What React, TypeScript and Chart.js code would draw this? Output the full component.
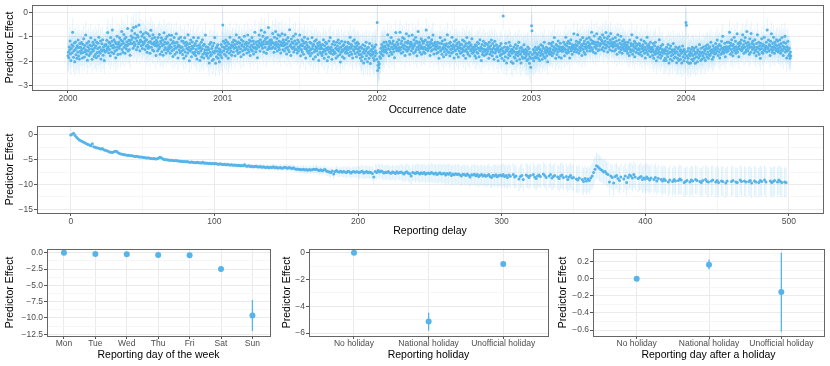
import React, { useEffect, useRef } from 'react';
import { Chart, registerables } from 'chart.js';

Chart.register(...registerables);

const FONT = '"Liberation Sans", Arial, Helvetica, sans-serif';
const BLUE = '#56B4E9';

// ---------------- Panel 1: occurrence date (daily, from 2000-01-01) ----------------
const occurrenceStartYear = 2000;
const occurrenceEffect: number[] = [
-1.78,-1.63,-1.86,-1.42,-1.54,-1.17,-1.71,-1.97,-1.48,-1.33,-1.66,-0.82,-1.39,-1.84,-1.57,-1.26,-2.02,-1.53,-1.21,-1.74,-1.46,-1.88,-1.37,-1.62,-1.13,-1.79,-1.44,-1.91,-1.28,-1.59,
-1.43,-1.68,-1.24,-1.52,-1.87,-1.31,-1.64,-1.08,-1.47,-1.83,-1.36,-1.61,-0.93,-1.55,-1.72,-1.27,-1.96,-1.41,-1.58,-1.19,-1.77,-1.49,-1.34,-1.69,-1.04,-1.63,-1.38,-1.92,-1.51,-1.23,
-1.57,-1.32,-1.81,-1.46,-1.13,-1.73,-1.38,-1.86,-1.22,-1.64,-1.48,-1.27,-1.79,-1.02,-1.61,-1.43,-1.68,-1.17,-1.91,-1.53,-1.29,-1.58,-1.12,-1.76,-1.42,-1.54,-1.97,-1.33,-1.62,-1.37,
-1.32,-1.57,-1.14,-1.48,-0.83,-1.41,-1.66,-1.23,-1.52,-1.27,-1.78,-1.03,-1.37,-1.63,-1.18,-0.72,-1.46,-1.34,-1.69,-1.12,-1.43,-1.58,-1.21,-1.86,-1.29,-1.54,-0.98,-1.42,-1.73,-1.31,
-1.23,-1.47,-1.04,-1.38,-1.71,-1.13,-1.32,-0.78,-1.52,-1.18,-1.63,-1.27,-0.91,-1.43,-1.09,-1.68,-1.34,-1.02,-1.49,-1.21,-1.37,-0.66,-1.58,-1.31,-1.14,-1.53,-1.17,-1.76,-1.28,-0.97,
-1.12,-0.74,-1.28,-1.03,-1.47,-0.62,-1.23,-1.38,-0.87,-1.32,-1.06,-0.58,-1.53,-1.17,-0.94,-1.42,-1.01,-1.29,-0.52,-1.24,-1.57,-1.13,-0.81,-1.37,-1.19,-0.98,-1.48,-1.33,-0.89,-1.22,
-1.27,-1.04,-1.52,-1.16,-0.83,-1.39,-1.12,-1.63,-1.34,-0.88,-1.47,-1.23,-1.41,-0.97,-1.68,-1.19,-0.73,-1.43,-1.28,-1.07,-1.54,-0.92,-1.31,-1.58,-1.22,-1.03,-1.36,-1.29,-1.77,-1.14,
-1.38,-1.22,-1.57,-1.03,-1.33,-1.49,-0.91,-1.42,-1.72,-1.18,-1.27,-1.04,-1.61,-1.37,-1.13,-1.76,-1.32,-0.84,-1.53,-1.21,-1.44,-1.08,-1.67,-1.29,-0.99,-1.52,-1.24,-1.58,-1.41,-0.93,
-1.48,-1.33,-1.68,-1.12,-1.43,-0.94,-1.57,-1.27,-1.81,-1.19,-1.52,-1.03,-1.38,-1.72,-1.26,-1.47,-0.88,-1.63,-1.22,-1.41,-1.87,-1.34,-1.08,-1.54,-1.39,-1.66,-1.02,-1.44,-1.59,-1.17,
-1.42,-1.73,-1.18,-1.53,-1.88,-1.27,-1.04,-1.62,-1.37,-1.79,-1.23,-1.48,-1.32,-1.67,-0.92,-1.54,-1.43,-1.98,-1.28,-1.58,-1.13,-1.51,-1.82,-1.39,-1.21,-1.64,-1.47,-1.03,-1.71,-1.36,
-1.63,-1.28,-1.77,-1.52,-1.17,-1.91,-1.38,-1.62,-1.04,-1.68,-1.47,-1.33,-1.97,-1.42,-1.58,-1.23,-1.83,-1.49,-1.12,-1.72,-1.36,-1.87,-1.31,-1.64,-1.53,-0.93,-1.69,-1.41,-1.78,-1.54,
-1.68,-1.43,-1.87,-1.52,-2.07,-1.31,-1.63,-1.78,-1.22,-1.73,-1.48,-1.97,-1.38,-1.61,-1.92,-1.27,-1.67,-1.03,-1.57,-2.08,-1.46,-1.82,-1.41,-1.59,-1.33,-1.88,-1.72,-1.49,-2.02,-1.62,
-1.53,-1.77,-1.32,-1.63,-1.86,-1.41,-0.52,-1.18,-1.57,-1.43,-1.72,-1.27,-1.48,-1.13,-1.79,-1.37,-1.62,-1.21,-1.52,-1.88,-1.29,-1.44,-1.68,-1.02,-1.47,-1.58,-1.34,-1.76,-1.39,-1.23,
-1.38,-1.62,-1.13,-1.47,-1.32,-1.78,-1.17,-1.43,-0.92,-1.58,-1.28,-1.52,-1.69,-1.21,-1.41,-1.03,-1.63,-1.27,-1.49,-1.82,-1.12,-1.37,-1.33,-1.57,-1.18,-1.73,-1.42,-0.98,-1.53,-1.29,
-1.31,-1.48,-1.22,-1.67,-1.38,-0.93,-1.53,-1.27,-1.62,-1.13,-1.42,-1.77,-1.18,-1.52,-1.34,-1.03,-1.58,-1.41,-1.17,-1.71,-1.29,-1.47,-0.82,-1.43,-1.61,-1.21,-1.49,-1.33,-1.86,-1.37,
-1.18,-1.42,-0.93,-1.27,-1.58,-1.12,-1.33,-0.73,-1.38,-1.22,-1.47,-0.98,-1.31,-1.62,-1.17,-0.82,-1.43,-1.08,-1.29,-1.68,-1.21,-1.03,-1.52,-1.28,-0.62,-1.41,-1.19,-1.48,-1.13,-1.34,
-1.28,-1.13,-1.47,-1.22,-0.87,-1.42,-1.27,-1.63,-1.02,-1.32,-1.48,-0.78,-1.23,-1.38,-1.07,-1.58,-1.31,-0.92,-1.43,-1.18,-1.52,-0.97,-1.33,-1.67,-1.21,-1.37,-0.88,-1.29,-1.53,-1.12,
-1.37,-1.23,-1.58,-0.92,-1.32,-1.47,-1.12,-1.71,-1.28,-1.42,-1.03,-1.53,-1.18,-1.61,-0.71,-1.38,-1.33,-1.77,-1.09,-1.43,-1.22,-1.48,-1.27,-0.98,-1.62,-1.41,-1.17,-1.52,-0.89,-1.31,
-1.52,-1.28,-1.67,-1.13,-1.42,-1.58,-1.21,-1.47,-0.93,-1.38,-1.78,-1.32,-1.53,-1.12,-1.62,-1.37,-1.18,-1.72,-1.27,-1.02,-1.48,-1.43,-1.87,-1.22,-1.51,-1.33,-1.59,-1.08,-1.41,-1.68,
-1.43,-1.57,-1.22,-1.78,-1.52,-1.27,-1.68,-1.03,-1.48,-1.37,-1.91,-1.32,-1.62,-1.18,-1.53,-1.82,-1.41,-1.12,-1.58,-1.47,-1.28,-1.73,-1.38,-1.97,-1.23,-1.49,-1.63,-1.33,-1.42,-1.69,
-1.48,-1.77,-1.32,-1.63,-1.12,-1.52,-1.88,-1.37,-1.58,-1.22,-1.71,-1.47,-1.28,-1.98,-1.53,-1.42,-1.83,-1.17,-1.62,-1.49,-1.03,-1.68,-1.43,-1.57,-1.92,-1.31,-1.54,-1.72,-1.19,-1.61,
-1.62,-1.33,-1.68,-1.47,-1.87,-1.23,-1.52,-1.38,-1.79,-1.13,-1.58,-1.48,-1.27,-1.73,-2.03,-1.42,-1.63,-1.18,-1.53,-1.82,-1.37,-1.57,-1.32,-1.88,-1.49,-1.21,-1.67,-1.43,-1.61,-1.52,
-1.41,-1.68,-1.23,-1.52,-1.28,-1.77,-1.43,-1.02,-1.62,-1.47,-1.32,-1.72,-1.38,-1.87,-1.17,-1.53,-1.58,-1.12,-1.42,-1.69,-1.27,-1.48,-1.82,-1.37,-1.22,-1.63,-1.51,-1.29,-1.73,-1.44,
-1.58,-1.87,-1.42,-1.73,-1.98,-1.47,-1.82,-1.33,-1.63,-2.07,-1.52,-1.68,-1.38,-1.91,-1.57,-1.22,-1.78,-1.48,-2.02,-1.67,-1.43,-1.62,-1.88,-1.28,-1.72,-2.09,-1.53,-1.77,-1.59,-1.37,
-1.72,-1.48,-1.87,-1.63,-1.97,-1.42,-1.78,-1.57,-1.33,-1.68,-1.92,-0.42,-2.38,-2.17,-2.03,-2.27,-2.12,-1.82,-1.63,-1.88,-1.47,-1.71,-1.32,-1.58,-1.41,-1.77,-1.52,-1.23,-1.62,-1.38,
-1.43,-1.58,-1.21,-1.53,-1.67,-1.32,-0.92,-1.48,-1.37,-1.78,-1.18,-1.52,-1.27,-1.63,-1.03,-1.42,-1.72,-1.28,-1.49,-1.17,-1.61,-1.38,-1.86,-1.33,-1.47,-0.83,-1.41,-1.57,-1.22,-1.53,
-1.32,-1.47,-1.12,-1.58,-1.43,-0.82,-1.52,-1.28,-1.68,-1.17,-1.41,-1.03,-1.62,-1.33,-1.48,-1.08,-1.37,-1.77,-1.22,-1.53,-0.88,-1.42,-1.59,-1.27,-1.18,-1.51,-0.97,-1.43,-1.72,-1.29,
-1.38,-1.23,-1.57,-1.32,-0.93,-1.48,-1.42,-1.67,-1.12,-1.37,-1.28,-1.62,-1.02,-1.53,-1.18,-1.78,-1.43,-1.27,-0.79,-1.52,-1.39,-1.21,-1.63,-1.33,-1.47,-1.08,-1.72,-1.41,-1.17,-1.49,
-1.27,-1.62,-1.18,-1.43,-1.68,-1.13,-1.52,-0.72,-1.33,-1.48,-1.22,-1.57,-1.38,-1.03,-1.47,-1.32,-1.77,-1.21,-1.42,-1.58,-1.12,-1.28,-1.53,-0.93,-1.37,-1.71,-1.31,-1.49,-1.23,-1.43,
-1.52,-1.33,-1.68,-1.38,-1.22,-1.63,-1.47,-1.88,-1.27,-1.42,-1.03,-1.58,-1.53,-1.28,-1.72,-1.17,-1.49,-1.43,-1.82,-1.32,-1.61,-1.12,-1.48,-1.37,-1.73,-1.29,-1.54,-0.92,-1.62,-1.41,
-1.42,-1.63,-1.27,-1.78,-1.23,-1.52,-1.38,-1.67,-1.02,-1.48,-1.62,-1.33,-1.43,-1.87,-1.18,-1.53,-1.57,-1.37,-1.12,-1.72,-1.28,-1.49,-1.41,-1.83,-1.22,-1.58,-1.43,-1.32,-1.68,-1.47,
-1.48,-1.32,-1.62,-1.13,-1.53,-1.77,-1.42,-1.18,-1.58,-1.37,-1.88,-1.28,-1.52,-1.03,-1.63,-1.41,-1.72,-1.27,-1.47,-1.22,-1.79,-1.38,-1.57,-1.33,-1.52,-1.08,-1.68,-1.43,-1.49,-1.62,
-1.58,-1.42,-1.78,-1.33,-1.52,-1.87,-1.38,-1.63,-1.22,-1.68,-1.47,-1.28,-1.82,-1.53,-1.12,-1.57,-1.43,-1.97,-1.48,-1.32,-1.73,-1.62,-1.18,-1.51,-1.77,-1.37,-1.59,-1.27,-1.72,-1.53,
-1.52,-1.68,-1.32,-1.57,-1.43,-1.88,-1.22,-1.48,-1.72,-1.37,-1.62,-1.13,-1.53,-1.78,-1.28,-1.63,-1.47,-1.92,-1.38,-1.18,-1.67,-1.52,-1.58,-1.33,-1.82,-1.49,-1.42,-1.98,-1.53,-1.61,
-1.62,-1.38,-1.77,-1.52,-1.28,-1.72,-1.88,-1.47,-1.58,-0.15,-1.68,-1.97,-1.42,-1.63,-1.82,-1.27,-1.53,-2.07,-1.57,-1.43,-1.87,-1.48,-1.73,-1.22,-1.62,-1.78,-1.37,-1.59,-2.02,-1.51,
-1.68,-1.52,-2.08,-1.57,-1.42,-1.83,-1.62,-1.87,-1.32,-1.73,-1.48,-1.98,-1.63,-1.38,-1.78,-1.67,-1.23,-1.58,-1.92,-1.47,-1.72,-2.07,-1.43,-1.61,-1.82,-1.53,-1.88,-1.57,-1.33,-1.69,
-1.63,-1.87,-1.52,-1.78,-1.68,-1.97,-1.58,-1.42,-1.92,-1.72,-1.48,-2.08,-1.82,-1.63,-2.25,-1.88,-0.55,-0.75,-1.73,-1.88,-1.52,-1.98,-1.67,-1.58,-1.82,-1.43,-1.87,-1.68,-1.53,-1.77,
-1.72,-1.48,-1.88,-1.42,-1.63,-1.97,-1.52,-1.77,-1.33,-1.68,-1.57,-1.92,-1.38,-1.73,-1.47,-1.82,-1.22,-1.62,-1.87,-1.53,-1.67,-1.43,-1.78,-1.58,-2.02,-1.49,-1.63,-1.28,-1.71,-1.57,
-1.48,-1.72,-1.28,-1.63,-1.37,-1.78,-1.22,-1.53,-1.68,-1.42,-1.03,-1.58,-1.47,-1.88,-1.32,-1.52,-1.73,-1.38,-1.62,-1.17,-1.49,-1.83,-1.41,-1.57,-1.27,-1.53,-1.87,-1.43,-1.59,-1.48,
-1.42,-1.58,-1.23,-1.47,-1.78,-1.32,-1.52,-1.02,-1.63,-1.38,-1.68,-1.27,-1.53,-1.18,-1.62,-1.43,-1.87,-1.28,-1.48,-1.12,-1.57,-1.42,-1.72,-1.33,-1.49,-1.37,-0.88,-1.61,-1.43,-1.52,
-1.32,-1.48,-1.18,-1.62,-1.37,-0.92,-1.53,-1.27,-1.68,-1.22,-1.43,-1.57,-1.12,-1.47,-1.33,-1.77,-1.38,-1.03,-1.52,-1.28,-1.63,-1.17,-1.42,-1.72,-1.31,-1.48,-1.08,-1.41,-1.58,-1.23,
-1.22,-1.38,-1.03,-1.47,-1.32,-1.58,-1.12,-1.43,-0.82,-1.27,-1.52,-1.18,-1.62,-1.28,-0.97,-1.42,-1.23,-1.68,-1.33,-1.48,-0.88,-1.37,-1.21,-1.57,-1.27,-1.08,-1.53,-1.38,-1.02,-1.31,
-1.28,-1.12,-1.52,-1.17,-0.92,-1.43,-1.27,-1.58,-1.03,-1.32,-1.18,-1.47,-0.83,-1.33,-1.38,-1.07,-1.62,-1.22,-0.98,-1.42,-1.28,-1.53,-1.13,-0.87,-1.37,-1.23,-1.57,-1.31,-1.08,-1.42,
-1.37,-1.22,-1.58,-1.28,-1.03,-1.52,-1.38,-1.17,-1.72,-1.33,-0.92,-1.42,-1.47,-1.13,-1.62,-1.27,-1.43,-0.98,-1.53,-1.32,-1.68,-1.18,-1.41,-1.48,-1.12,-1.29,-1.57,-1.37,-1.23,-1.49,
-1.42,-1.57,-1.33,-1.68,-1.22,-1.48,-1.43,-1.77,-1.13,-1.52,-1.62,-1.28,-1.37,-0.92,-1.53,-1.72,-1.32,-1.58,-1.41,-1.18,-1.82,-1.47,-1.27,-1.63,-1.38,-1.03,-1.52,-1.67,-1.31,-1.48,
-1.53,-1.28,-1.72,-1.37,-1.62,-1.12,-1.48,-1.78,-1.42,-1.33,-1.57,-1.52,-1.18,-1.68,-1.43,-1.87,-1.27,-1.53,-1.63,-1.02,-1.38,-1.73,-1.47,-1.32,-1.58,-1.42,-1.82,-1.22,-1.49,-1.62,
-1.58,-1.43,-1.77,-1.52,-1.28,-1.88,-1.63,-1.37,-1.72,-1.22,-1.57,-1.98,-1.48,-1.68,-1.42,-1.83,-1.53,-1.62,-1.12,-1.73,-1.47,-1.87,-1.38,-1.63,-1.78,-1.52,-1.32,-1.67,-1.58,-1.97,
-1.68,-1.52,-1.88,-1.57,-1.97,-1.43,-1.72,-1.58,-1.82,-1.32,-1.67,-2.07,-1.48,-1.63,-1.92,-1.38,-1.78,-1.62,-1.53,-1.98,-1.73,-1.28,-1.58,-1.87,-1.52,-1.68,-1.83,-1.42,-1.61,-2.06,
-1.62,-1.88,-1.48,-1.73,-1.97,-1.42,-1.77,-1.58,-1.92,-1.53,-1.68,-2.07,-1.63,-1.38,-1.82,-1.57,-1.98,-1.52,-1.72,-1.87,-1.63,-0.42,-0.53,-1.78,-2.02,-1.58,-1.88,-1.47,-2.08,-1.72,
-1.78,-1.62,-2.07,-1.52,-1.68,-1.92,-1.43,-1.77,-1.98,-1.57,-1.48,-1.88,-1.72,-2.08,-1.63,-1.42,-1.82,-1.67,-2.02,-1.53,-1.58,-1.87,-1.73,-1.32,-1.78,-1.62,-1.97,-1.47,-1.68,-1.91,
-1.63,-1.78,-1.42,-1.68,-1.87,-1.52,-1.58,-1.97,-1.38,-1.72,-1.48,-1.82,-1.33,-1.62,-1.88,-1.47,-1.73,-1.41,-1.77,-1.57,-1.22,-1.68,-1.53,-1.92,-1.58,-1.37,-1.83,-1.62,-1.47,-1.71,
-1.52,-1.28,-1.68,-1.42,-1.57,-1.13,-1.48,-1.77,-1.37,-1.62,-1.32,-1.87,-1.53,-1.38,-1.72,-1.18,-1.47,-1.63,-0.98,-1.52,-1.68,-1.43,-1.58,-1.27,-1.82,-1.49,-1.41,-1.62,-1.22,-1.53,
-1.42,-1.58,-1.22,-1.47,-0.82,-1.38,-1.72,-1.27,-1.52,-1.12,-1.63,-1.37,-1.78,-1.32,-1.48,-1.02,-1.57,-1.43,-1.18,-1.68,-1.41,-1.53,-0.88,-1.62,-1.28,-1.47,-1.82,-1.38,-1.23,-1.51,
-1.28,-1.52,-1.13,-1.57,-1.42,-0.92,-1.48,-1.33,-1.68,-1.17,-1.43,-1.03,-1.62,-1.27,-1.53,-0.78,-1.38,-1.58,-1.22,-1.47,-1.32,-1.72,-1.08,-1.41,-1.63,-0.87,-1.42,-1.28,-1.52,-1.18,
-1.48,-1.32,-1.67,-1.42,-1.12,-1.58,-1.53,-1.78,-1.28,-1.43,-0.92,-1.62,-1.47,-1.22,-1.72,-1.37,-1.52,-1.88,-1.27,-1.48,-1.08,-1.63,-1.38,-1.68,-1.32,-1.53,-1.02,-1.57,-1.42,-1.49,
-1.38,-1.22,-1.62,-0.72,-1.43,-1.48,-1.13,-1.58,-1.32,-1.37,-1.77,-1.18,-1.52,-0.88,-1.42,-1.63,-1.28,-1.53,-1.02,-1.41,-1.68,-1.23,-1.47,-1.33,-1.57,-1.12,-1.38,-1.52,-1.17,-1.62,
-1.47,-1.33,-1.58,-1.12,-1.42,-1.68,-1.28,-1.52,-1.03,-1.57,-1.38,-1.77,-1.22,-1.48,-1.43,-0.98,-1.62,-1.27,-1.53,-1.87,-1.41,-1.58,-1.18,-1.52,-1.78,-1.47,-1.72,-1.88,-1.62,-1.79,
];
// half width of the interval, one value per 30-day block
const occurrenceErrHalf: number[] = [
0.6,0.55,0.55,0.55,0.55,0.55,0.55,0.55,0.5,0.5,0.5,0.55,0.6,0.5,0.5,0.55,0.55,0.5,0.5,0.5,
0.5,0.5,0.5,0.55,0.65,0.5,0.5,0.5,0.5,0.5,0.5,0.5,0.5,0.5,0.55,0.55,0.65,0.55,0.5,0.5,
0.5,0.5,0.5,0.5,0.5,0.5,0.55,0.55,0.6,0.55,0.55,0.5,0.5,0.5,0.5,0.5,0.55,
];
const yearTicks = [2000, 2001, 2002, 2003, 2004];
const p1YMajor = [0, -1, -2, -3];
const p1YLabels = ['0', '\u22121', '\u22122', '\u22123'];
const p1YMinor = [-0.5, -1.5, -2.5];

// ---------------- Panel 2: reporting delay (days 0..498) ----------------
const delayEffect: (number | null)[] = [
0.0,0.12,0.35,-0.1,-0.45,-0.75,-1.0,-1.2,-1.35,-1.5,
-1.65,-1.8,-1.95,-2.05,-2.2,-1.8,-2.4,-2.5,-2.6,-2.65,
-2.75,-2.85,-2.75,-3.0,-3.1,-3.2,-3.3,-3.45,-3.5,-3.55,
-3.4,-3.3,-3.35,-3.6,-3.75,-3.85,-3.9,-4.0,-4.0,-4.1,
-4.1,-4.15,-4.2,-4.2,-4.3,-4.35,-4.3,-4.4,-4.45,-4.45,
-4.5,-4.55,-4.6,-4.65,-4.6,-4.7,-4.75,-4.8,-4.75,-4.85,
-4.8,-4.7,-4.5,-4.6,-4.8,-4.95,-5.0,-5.0,-5.05,-5.1,
-5.1,-5.15,-5.2,-5.15,-5.2,-5.25,-5.3,-5.3,-5.35,-5.35,
-5.4,-5.35,-5.45,-5.5,-5.45,-5.5,-5.55,-5.6,-5.5,-5.6,
-5.6,-5.65,-5.5,-5.7,-5.65,-5.7,-5.75,-5.7,-5.8,-5.75,
-5.8,-5.75,-5.85,-5.9,-5.8,-5.9,-5.95,-5.9,-6.0,-5.95,
-6.0,-6.05,-6.0,-6.1,-6.05,-6.1,-6.15,-6.1,-6.2,-6.15,
-6.2,-6.0,-6.25,-6.3,-6.2,-6.35,-6.3,-6.4,-6.35,-6.3,
-6.4,-6.45,-6.35,-6.5,-6.4,-6.5,-6.55,-6.45,-6.6,-6.5,
-6.55,-6.4,-6.6,-6.5,-6.65,-6.6,-6.55,-6.7,-6.6,-6.5,
-6.6,-6.7,-6.55,-6.65,-6.75,-6.6,-6.8,-6.9,-6.85,-7.0,
-6.95,-7.05,-6.9,-7.1,-7.0,-7.15,-6.95,-7.1,-7.05,-6.9,
-7.0,-6.85,-7.1,-7.2,-7.05,-7.25,-7.1,-6.95,-7.3,-7.4,
-7.5,-7.6,-7.3,-7.9,-7.4,-7.2,-7.45,-7.5,-7.35,-7.55,
-7.4,-7.5,-7.6,-7.35,-7.45,-7.7,-7.5,-7.4,-7.55,-7.45,
-7.5,-7.6,-7.45,-7.35,-7.7,-7.55,-7.4,-7.65,-7.5,-7.6,
-7.8,-8.5,-7.4,-7.6,-7.2,-7.5,-7.3,-7.45,-7.7,-7.55,
-7.6,-7.4,-7.65,-7.75,-7.5,-7.6,-7.8,-7.45,-7.7,-7.6,
-7.5,-7.7,-7.9,-7.6,-7.45,-7.75,-7.85,-8.3,-7.6,-7.7,
-7.8,-7.55,-7.7,-7.9,-7.65,-7.8,-7.6,-7.95,-7.75,-7.7,
-7.85,-7.6,-7.75,-7.9,-7.7,-8.0,-7.8,-7.65,-7.9,-7.85,
-7.75,-8.1,-7.8,-7.95,-7.7,-8.2,-7.9,-8.05,-7.85,-8.0,
-7.9,-8.1,-8.3,-7.95,-8.0,-8.2,-7.9,-8.15,-8.5,-8.05,
-8.1,-7.95,-8.25,-8.0,-8.4,-8.15,-8.0,-8.3,-8.1,-8.35,
-8.2,-8.0,-8.4,-8.6,-8.15,-8.3,-8.05,-8.45,-8.2,-8.1,
-8.3,-8.0,-8.4,-8.2,-8.6,-8.1,-8.35,null,-8.0,-8.5,
-8.3,null,-8.9,-8.4,-8.2,-9.0,null,-8.1,-8.3,-8.6,
-8.2,null,-8.0,-8.5,-8.8,-8.3,-8.1,-8.4,null,-7.9,
-8.2,-8.6,null,-8.3,-8.0,-8.7,-8.4,-8.2,null,-8.5,
-8.8,-8.3,-8.1,-8.6,null,-8.4,-9.0,-8.5,-8.2,-8.7,
-8.6,null,-8.9,-9.1,-8.7,null,-9.0,-9.4,-8.8,-9.3,
-8.9,-9.2,-8.7,-8.3,-7.6,-6.9,-6.2,-6.4,-6.7,-7.0,
-7.2,-7.5,-7.4,-7.8,-8.0,-9.5,-8.3,-8.6,-9.7,-8.4,
-8.2,-8.8,-9.2,-8.5,null,-8.9,-8.3,-9.6,-8.6,-8.1,
-8.3,-8.7,-8.0,-8.5,null,-8.8,-8.6,-8.4,-9.0,-8.7,
-8.9,-8.5,-8.8,-9.1,-8.7,null,-9.0,-8.6,-9.3,-8.8,
null,-9.0,-9.3,-8.9,-9.2,null,-9.5,-9.1,null,-9.4,
-9.0,-9.3,null,-9.2,-8.9,-9.1,null,-9.6,-9.4,-9.2,
null,-9.5,-9.1,-9.3,null,-9.0,-9.2,null,-9.4,-9.6,
-9.2,null,-9.0,-9.4,-9.5,null,-9.3,-9.1,null,-9.5,
-9.2,-9.6,null,-9.3,-9.4,null,-9.7,-9.3,null,null,
-9.4,-9.2,null,-9.5,-9.6,null,-9.1,-9.4,null,-9.3,
-9.5,null,-9.4,-9.2,-9.7,null,-9.3,-9.5,null,-9.6,
-9.2,-9.4,null,-9.1,-9.5,null,null,-9.3,-9.6,-9.4,
-9.2,null,-9.5,-9.1,-9.4,-9.6,null,-9.5,-9.6,
];
// half width of the interval, one value per 10 days of delay
const delayErrHalf: number[] = [
0.15,0.15,0.2,0.2,0.25,0.25,0.3,0.3,0.35,0.35,
0.4,0.45,0.5,0.55,0.6,0.7,0.8,0.9,1.0,1.1,
1.3,1.5,1.5,1.7,1.8,1.9,2.0,2.0,2.1,2.2,
2.3,2.4,2.4,2.5,2.6,2.7,2.6,2.5,2.6,2.7,
2.8,2.8,2.9,2.9,3.0,3.0,3.0,3.0,3.0,3.0,
];
const p2XMajor = [0, 100, 200, 300, 400, 500];
const p2XLabels = ['0', '100', '200', '300', '400', '500'];
const p2XMinor = [50, 150, 250, 350, 450];
const p2YMajor = [0, -5, -10, -15];
const p2YLabels = ['0', '\u22125', '\u221210', '\u221215'];
const p2YMinor = [-2.5, -7.5, -12.5];

// ---------------- Panel 3: reporting day of the week ----------------
const weekdays = ['Mon', 'Tue', 'Wed', 'Thu', 'Fri', 'Sat', 'Sun'];
const weekdayEffect = [0, -0.2, -0.25, -0.35, -0.38, -2.5, -9.6];
const weekdayLower = [0, -0.3, -0.35, -0.45, -0.48, -2.65, -12.0];
const weekdayUpper = [0, -0.1, -0.15, -0.25, -0.28, -2.35, -7.25];
const p3YMajor = [0, -2.5, -5, -7.5, -10, -12.5];
const p3YLabels = ['0.0', '\u22122.5', '\u22125.0', '\u22127.5', '\u221210.0', '\u221212.5'];
const p3YMinor = [-1.25, -3.75, -6.25, -8.75, -11.25];

// ---------------- Panel 4: reporting holiday ----------------
const holidayCats = ['No holiday', 'National holiday', 'Unofficial holiday'];
const holidayEffect = [0, -5.14, -0.84];
const holidayLower = [0, -5.83, -0.95];
const holidayUpper = [0, -4.47, -0.73];
const p4YMajor = [0, -2, -4, -6];
const p4YLabels = ['0', '\u22122', '\u22124', '\u22126'];
const p4YMinor = [-1, -3, -5];

// ---------------- Panel 5: reporting day after a holiday ----------------
const afterHolidayEffect = [0, 0.165, -0.155];
const afterHolidayLower = [0, 0.11, -0.62];
const afterHolidayUpper = [0, 0.225, 0.306];
const p5YMajor = [0.2, 0, -0.2, -0.4, -0.6];
const p5YLabels = ['0.2', '0.0', '\u22120.2', '\u22120.4', '\u22120.6'];
const p5YMinor = [0.3, 0.1, -0.1, -0.3, -0.5];

// ---------------- helpers ----------------
type AxisSpec = {
  min: number; max: number;
  major: number[]; labels: string[]; minor: number[];
  title: string; size: number; tickPad: number; titlePad: number;
};
type Spec = {
  points: { x: number; y: number | null }[];
  bars: { x: number; y: [number, number] }[];
  radius: number; barColor: string; barWidth: number;
  x: AxisSpec; y: AxisSpec;
  pad: { left: number; top: number; right: number; bottom: number };
};

const borderPlugin = {
  id: 'panelBorder',
  afterDraw(chart: any) {
    const { ctx, chartArea } = chart;
    const l = Math.round(chartArea.left) + 0.5;
    const t = Math.round(chartArea.top) + 0.5;
    const r = Math.round(chartArea.right) + 0.5;
    const b = Math.round(chartArea.bottom) + 0.5;
    ctx.save();
    ctx.strokeStyle = '#666666';
    ctx.lineWidth = 1;
    ctx.strokeRect(l, t, r - l, b - t);
    ctx.restore();
  },
};

function axis(a: AxisSpec, isX: boolean) {
  const list = [
    ...a.major.map((v, i) => ({ value: v, lbl: a.labels[i] })),
    ...a.minor.map((v) => ({ value: v, lbl: undefined as string | undefined })),
  ].sort((p, q) => p.value - q.value);
  const isMajor = (ctx: any) => ctx.tick && ctx.tick.lbl !== undefined;
  return {
    type: 'linear',
    bounds: 'data',
    offset: false,
    min: a.min,
    max: a.max,
    afterBuildTicks: (s: any) => {
      s.ticks = list.map((t) => ({ value: t.value, lbl: t.lbl }));
    },
    afterFit: (s: any) => {
      if (isX) s.height = a.size; else s.width = a.size;
      s.paddingTop = 0; s.paddingBottom = 0; s.paddingLeft = 0; s.paddingRight = 0;
    },
    ticks: {
      autoSkip: false, maxRotation: 0, minRotation: 0, padding: a.tickPad,
      color: '#4D4D4D', font: { family: FONT, size: 8.5 },
      callback: (_v: any, i: number, arr: any[]) => (arr[i].lbl ?? ''),
    },
    grid: {
      offset: false, lineWidth: 1, tickLength: 3, drawTicks: true,
      color: (ctx: any) => (isMajor(ctx) ? '#EBEBEB' : '#F6F6F6'),
      tickColor: (ctx: any) => (isMajor(ctx) ? '#555555' : 'rgba(0,0,0,0)'),
    },
    border: { display: false },
    title: {
      display: true, text: a.title, color: '#000000',
      font: { family: FONT, size: 10.5 },
      padding: isX ? { top: 0, bottom: a.titlePad } : { top: a.titlePad, bottom: 0 },
    },
  };
}

function config(spec: Spec): any {
  return {
    type: 'scatter',
    data: {
      datasets: [
        {
          type: 'scatter', data: spec.points, order: 0,
          pointRadius: spec.radius, pointHoverRadius: spec.radius,
          pointBackgroundColor: BLUE, pointBorderColor: BLUE, pointBorderWidth: 0,
          showLine: false,
        },
        {
          type: 'bar', data: spec.bars, order: 1,
          backgroundColor: spec.barColor, borderWidth: 0,
          barThickness: spec.barWidth, inflateAmount: 0, grouped: false,
        },
      ],
    },
    options: {
      animation: false, responsive: false, devicePixelRatio: 1, events: [],
      layout: { autoPadding: false, padding: spec.pad },
      plugins: { legend: { display: false }, tooltip: { enabled: false } },
      scales: { x: axis(spec.x, true), y: axis(spec.y, false) },
    },
    plugins: [borderPlugin],
  };
}

const dayOfYearStart = (y: number) => (Date.UTC(y, 0, 1) - Date.UTC(occurrenceStartYear, 0, 1)) / 86400000;

function spec1(): Spec {
  const points = occurrenceEffect.map((v, i) => ({ x: i, y: v }));
  const bars = occurrenceEffect.map((v, i) => {
    const h = occurrenceErrHalf[Math.min(occurrenceErrHalf.length - 1, Math.floor(i / 30))];
    return { x: i, y: [v - h, v + h] as [number, number] };
  });
  const major = yearTicks.map(dayOfYearStart);
  const minor = major.map((d, i) => (i < major.length - 1 ? (d + major[i + 1]) / 2 : d + (d - major[i - 1]) / 2));
  return {
    points, bars, radius: 1.5, barColor: 'rgba(86,180,233,0.15)', barWidth: 1,
    x: { min: -85, max: 1785, major, labels: yearTicks.map(String), minor, title: 'Occurrence date', size: 28, tickPad: 1, titlePad: 1.5 },
    y: { min: -3.18, max: 0.3, major: p1YMajor, labels: p1YLabels, minor: p1YMinor, title: 'Predictor Effect', size: 32, tickPad: 1, titlePad: 4 },
    pad: { left: 0, top: 5, right: 7, bottom: 0 },
  };
}

function spec2(): Spec {
  const points = delayEffect.map((v, i) => ({ x: i, y: v }));
  const bars: { x: number; y: [number, number] }[] = [];
  delayEffect.forEach((v, i) => {
    if (v === null) return;
    const h = delayErrHalf[Math.min(delayErrHalf.length - 1, Math.floor(i / 10))];
    bars.push({ x: i, y: [v - h, v + h] });
  });
  return {
    points, bars, radius: 1.5, barColor: 'rgba(86,180,233,0.2)', barWidth: 1,
    x: { min: -23.5, max: 523.7, major: p2XMajor, labels: p2XLabels, minor: p2XMinor, title: 'Reporting delay', size: 29, tickPad: 0.5, titlePad: 5 },
    y: { min: -15.75, max: 1.8, major: p2YMajor, labels: p2YLabels, minor: p2YMinor, title: 'Predictor Effect', size: 37, tickPad: 1, titlePad: 4 },
    pad: { left: 0, top: 8, right: 7, bottom: 0 },
  };
}

function catSpec(cats: string[], eff: number[], lo: number[], hi: number[], xmin: number, xmax: number,
  y: AxisSpec, xTitle: string, padRight: number): Spec {
  return {
    points: eff.map((v, i) => ({ x: i, y: v })),
    bars: eff.map((_v, i) => ({ x: i, y: [lo[i], hi[i]] as [number, number] })),
    radius: 3, barColor: BLUE, barWidth: 1.3,
    x: { min: xmin, max: xmax, major: cats.map((_c, i) => i), labels: cats, minor: [], title: xTitle, size: 30, tickPad: 0, titlePad: 5 },
    y,
    pad: { left: 0, top: 7, right: padRight, bottom: 0 },
  };
}

function spec3(): Spec {
  return catSpec(weekdays, weekdayEffect, weekdayLower, weekdayUpper, -0.54, 6.56,
    { min: -12.76, max: 0.57, major: p3YMajor, labels: p3YLabels, minor: p3YMinor, title: 'Predictor Effect', size: 47, tickPad: 1, titlePad: 4 },
    'Reporting day of the week', 6);
}
function spec4(): Spec {
  return catSpec(holidayCats, holidayEffect, holidayLower, holidayUpper, -0.603, 2.6,
    { min: -6.22, max: 0.276, major: p4YMajor, labels: p4YLabels, minor: p4YMinor, title: 'Predictor Effect', size: 33, tickPad: 1, titlePad: 5 },
    'Reporting holiday', 6);
}
function spec5(): Spec {
  return catSpec(holidayCats, afterHolidayEffect, afterHolidayLower, afterHolidayUpper, -0.604, 2.59,
    { min: -0.67, max: 0.349, major: p5YMajor, labels: p5YLabels, minor: p5YMinor, title: 'Predictor Effect', size: 39, tickPad: 1, titlePad: 3 },
    'Reporting day after a holiday', 6);
}

function Panel(props: { left: number; top: number; width: number; height: number; make: () => Spec }) {
  const ref = useRef<HTMLCanvasElement | null>(null);
  useEffect(() => {
    const chart = new Chart(ref.current as HTMLCanvasElement, config(props.make()));
    return () => chart.destroy();
  }, []);
  return (
    <canvas
      ref={ref}
      width={props.width}
      height={props.height}
      style={{ position: 'absolute', left: props.left, top: props.top, width: props.width, height: props.height }}
    />
  );
}

export default function App() {
  return (
    <div style={{ position: 'absolute', left: 0, top: 0, width: 830, height: 366, background: '#ffffff', overflow: 'hidden' }}>
      <Panel left={0} top={0} width={830} height={118} make={spec1} />
      <Panel left={0} top={118} width={830} height={124} make={spec2} />
      <Panel left={0} top={242} width={276} height={124} make={spec3} />
      <Panel left={276} top={242} width={278} height={124} make={spec4} />
      <Panel left={554} top={242} width={276} height={124} make={spec5} />
    </div>
  );
}
